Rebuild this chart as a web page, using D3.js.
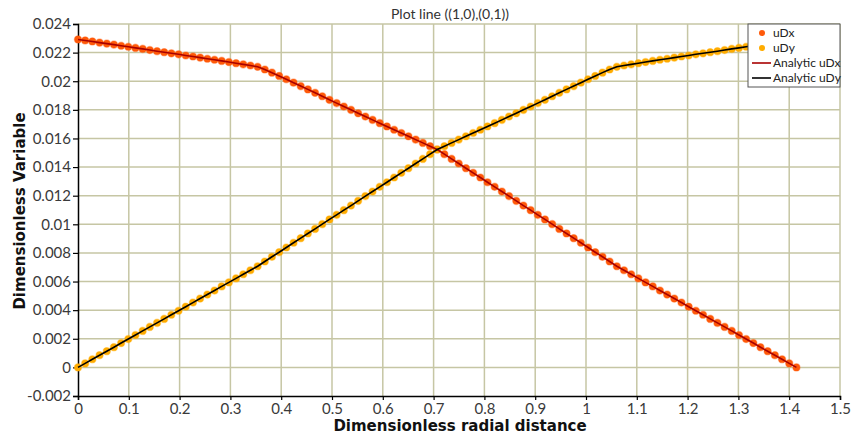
<!DOCTYPE html>
<html>
<head>
<meta charset="utf-8">
<script src="https://cdn.jsdelivr.net/npm/d3@7"></script>
<style>
  html, body { margin: 0; padding: 0; background: #ffffff; }
  svg { display: block; }
  .tick-label { font-family: "Lato", "DejaVu Sans", sans-serif; font-size: 15px; fill: #3a3a3a; }
  .axis-title { font-family: "DejaVu Sans", sans-serif; font-weight: bold; font-size: 15px; fill: #111; }
  .plot-title { font-family: "Lato", "DejaVu Sans", sans-serif; font-size: 14px; fill: #333; }
  .legend-text { font-family: "Lato", "DejaVu Sans", sans-serif; font-size: 12px; fill: #222; }
</style>
</head>
<body>
<svg id="chart" width="853" height="436"></svg>
<script>
// Sample positions along the line from (1,0) to (0,1)
const distance = [
  0, 0.0141, 0.0283, 0.0424, 0.0566, 0.0707, 0.0849, 0.0990, 0.1131, 0.1273,
  0.1414, 0.1556, 0.1697, 0.1838, 0.1980, 0.2121, 0.2263, 0.2404, 0.2546, 0.2687,
  0.2828, 0.2970, 0.3111, 0.3253, 0.3394, 0.3536, 0.3677, 0.3818, 0.3960, 0.4101,
  0.4243, 0.4384, 0.4525, 0.4667, 0.4808, 0.4950, 0.5091, 0.5233, 0.5374, 0.5515,
  0.5657, 0.5798, 0.5940, 0.6081, 0.6223, 0.6364, 0.6505, 0.6647, 0.6788, 0.6930,
  0.7071, 0.7212, 0.7354, 0.7495, 0.7637, 0.7778, 0.7920, 0.8061, 0.8202, 0.8344,
  0.8485, 0.8627, 0.8768, 0.8910, 0.9051, 0.9192, 0.9334, 0.9475, 0.9617, 0.9758,
  0.9899, 1.0041, 1.0182, 1.0324, 1.0465, 1.0607, 1.0748, 1.0889, 1.1031, 1.1172,
  1.1314, 1.1455, 1.1597, 1.1738, 1.1879, 1.2021, 1.2162, 1.2304, 1.2445, 1.2587,
  1.2728, 1.2869, 1.3011, 1.3152, 1.3294, 1.3435, 1.3576, 1.3718, 1.3859, 1.4001,
  1.4142
];

// Horizontal displacement component
const uDx = [
  0.02292, 0.02285, 0.02278, 0.02270, 0.02263, 0.02256, 0.02248, 0.02241, 0.02233, 0.02226,
  0.02218, 0.02210, 0.02203, 0.02195, 0.02188, 0.02180, 0.02173, 0.02165, 0.02157, 0.02150,
  0.02142, 0.02134, 0.02126, 0.02118, 0.02110, 0.02101, 0.02082, 0.02060, 0.02037, 0.02014,
  0.01990, 0.01966, 0.01943, 0.01919, 0.01895, 0.01870, 0.01847, 0.01823, 0.01800, 0.01776,
  0.01753, 0.01730, 0.01707, 0.01684, 0.01661, 0.01638, 0.01615, 0.01592, 0.01569, 0.01546,
  0.01523, 0.01490, 0.01457, 0.01425, 0.01392, 0.01360, 0.01327, 0.01294, 0.01262, 0.01229,
  0.01197, 0.01164, 0.01131, 0.01099, 0.01066, 0.01034, 0.01001, 0.00968, 0.00936, 0.00903,
  0.00871, 0.00838, 0.00805, 0.00773, 0.00740, 0.00707, 0.00679, 0.00651, 0.00622, 0.00594,
  0.00566, 0.00537, 0.00509, 0.00481, 0.00453, 0.00424, 0.00396, 0.00368, 0.00339, 0.00311,
  0.00283, 0.00255, 0.00226, 0.00198, 0.00170, 0.00141, 0.00113, 0.00085, 0.00057, 0.00028,
  0
];

// Vertical displacement component
const uDy = [
  0, 0.00028, 0.00057, 0.00085, 0.00113, 0.00141, 0.00170, 0.00198, 0.00226, 0.00255,
  0.00283, 0.00311, 0.00339, 0.00368, 0.00396, 0.00424, 0.00453, 0.00481, 0.00509, 0.00537,
  0.00566, 0.00594, 0.00622, 0.00651, 0.00679, 0.00707, 0.00740, 0.00773, 0.00805, 0.00838,
  0.00871, 0.00903, 0.00936, 0.00968, 0.01001, 0.01034, 0.01066, 0.01099, 0.01131, 0.01164,
  0.01197, 0.01229, 0.01262, 0.01294, 0.01327, 0.01360, 0.01392, 0.01425, 0.01457, 0.01490,
  0.01523, 0.01546, 0.01569, 0.01592, 0.01615, 0.01638, 0.01661, 0.01684, 0.01707, 0.01730,
  0.01753, 0.01776, 0.01800, 0.01823, 0.01847, 0.01870, 0.01895, 0.01919, 0.01943, 0.01966,
  0.01990, 0.02014, 0.02037, 0.02060, 0.02082, 0.02101, 0.02110, 0.02118, 0.02126, 0.02134,
  0.02142, 0.02150, 0.02157, 0.02165, 0.02173, 0.02180, 0.02188, 0.02195, 0.02203, 0.02210,
  0.02218, 0.02226, 0.02233, 0.02241, 0.02248, 0.02256, 0.02263, 0.02270, 0.02278, 0.02285,
  0.02292
];

// Analytic curves evaluated at the same positions
const analyticUDx = uDx;
const analyticUDy = uDy;

const xTicks = [0, 0.1, 0.2, 0.3, 0.4, 0.5, 0.6, 0.7, 0.8, 0.9, 1, 1.1, 1.2, 1.3, 1.4, 1.5];
const xTickLabels = ["0", "0.1", "0.2", "0.3", "0.4", "0.5", "0.6", "0.7", "0.8", "0.9", "1", "1.1", "1.2", "1.3", "1.4", "1.5"];
const yTicks = [-0.002, 0, 0.002, 0.004, 0.006, 0.008, 0.01, 0.012, 0.014, 0.016, 0.018, 0.02, 0.022, 0.024];
const yTickLabels = ["-0.002", "0", "0.002", "0.004", "0.006", "0.008", "0.01", "0.012", "0.014", "0.016", "0.018", "0.02", "0.022", "0.024"];

const legendNames = ["uDx", "uDy", "Analytic uDx", "Analytic uDy"];

const colors = {
  uDx: "#ff5a0a",
  uDy: "#ffac00",
  analyticUDx: "#a80000",
  analyticUDy: "#000000",
  grid: "#c6c6a4"
};

const svg = d3.select("#chart");
const margin = { left: 78, right: 13, top: 24, bottom: 40 };
const W = 853, H = 436;

const x = d3.scaleLinear().domain([0, 1.5]).range([margin.left, W - margin.right]);
const y = d3.scaleLinear().domain([-0.002, 0.024]).range([H - margin.bottom, margin.top]);

// Grid
const grid = svg.append("g");
grid.selectAll("line.vx").data(xTicks.slice(1)).join("line")
  .attr("x1", d => x(d)).attr("x2", d => x(d))
  .attr("y1", y(-0.002)).attr("y2", y(0.024))
  .attr("stroke", colors.grid).attr("stroke-width", 1.5);
grid.selectAll("line.hy").data(yTicks.slice(1)).join("line")
  .attr("x1", x(0)).attr("x2", x(1.5))
  .attr("y1", d => y(d)).attr("y2", d => y(d))
  .attr("stroke", colors.grid).attr("stroke-width", 1.5);

// Axes
const xAxis = d3.axisBottom(x).tickValues(xTicks).tickSize(4).tickPadding(3)
  .tickFormat((d, i) => xTickLabels[i]);
const yAxis = d3.axisLeft(y).tickValues(yTicks).tickSize(5).tickPadding(2)
  .tickFormat((d, i) => yTickLabels[i]);

const gx = svg.append("g").attr("transform", `translate(0,${y(-0.002)})`).call(xAxis);
const gy = svg.append("g").attr("transform", `translate(${x(0)},0)`).call(yAxis);
[gx, gy].forEach(g => {
  g.select(".domain").attr("stroke", "#000").attr("stroke-width", 1.5);
  g.selectAll(".tick line").attr("stroke", "#000").attr("stroke-width", 1.2);
  g.selectAll(".tick text").attr("class", "tick-label").attr("font-family", null).attr("font-size", null);
});
gx.selectAll(".tick text").attr("dy", "0.72em");

// Points
const pts = svg.append("g");
function drawPoints(values, color) {
  pts.append("g").selectAll("circle").data(values).join("circle")
    .attr("cx", (d, i) => x(distance[i]))
    .attr("cy", d => y(d))
    .attr("r", 3.6)
    .attr("fill", color)
    .attr("stroke", color)
    .attr("stroke-opacity", 0.35)
    .attr("stroke-width", 1.4);
}
drawPoints(uDx, colors.uDx);
drawPoints(uDy, colors.uDy);

// Analytic lines
const line = d3.line().x((d, i) => x(distance[i])).y(d => y(d));
svg.append("path").datum(analyticUDx).attr("d", line)
  .attr("fill", "none").attr("stroke", colors.analyticUDx).attr("stroke-width", 1.6);
svg.append("path").datum(analyticUDy).attr("d", line)
  .attr("fill", "none").attr("stroke", colors.analyticUDy).attr("stroke-width", 1.6);

// Titles
svg.append("text").attr("class", "plot-title")
  .attr("x", 450).attr("y", 19).attr("text-anchor", "middle")
  .text("Plot line ((1,0),(0,1))");
svg.append("text").attr("class", "axis-title")
  .attr("x", 460).attr("y", 431).attr("text-anchor", "middle")
  .text("Dimensionless radial distance");
svg.append("text").attr("class", "axis-title")
  .attr("transform", `translate(25,${(y(-0.002) + y(0.024)) / 2 + 1}) rotate(-90)`)
  .attr("text-anchor", "middle")
  .text("Dimensionless Variable");

// Legend
const lg = svg.append("g").attr("transform", "translate(748,24)");
lg.append("rect").attr("width", 92).attr("height", 63)
  .attr("fill", "#fff").attr("stroke", "#555").attr("stroke-width", 1);
const legendItems = [
  { name: legendNames[0], kind: "dot", color: colors.uDx },
  { name: legendNames[1], kind: "dot", color: colors.uDy },
  { name: legendNames[2], kind: "line", color: colors.analyticUDx },
  { name: legendNames[3], kind: "line", color: colors.analyticUDy }
];
legendItems.forEach((it, i) => {
  const cy = 9 + i * 15;
  if (it.kind === "dot") {
    lg.append("circle").attr("cx", 14).attr("cy", cy).attr("r", 3).attr("fill", it.color);
  } else {
    lg.append("line").attr("x1", 4).attr("x2", 23).attr("y1", cy).attr("y2", cy)
      .attr("stroke", it.color).attr("stroke-width", 1.6);
  }
  lg.append("text").attr("class", "legend-text").attr("x", 25).attr("y", cy + 4).text(it.name);
});
</script>
</body>
</html>
